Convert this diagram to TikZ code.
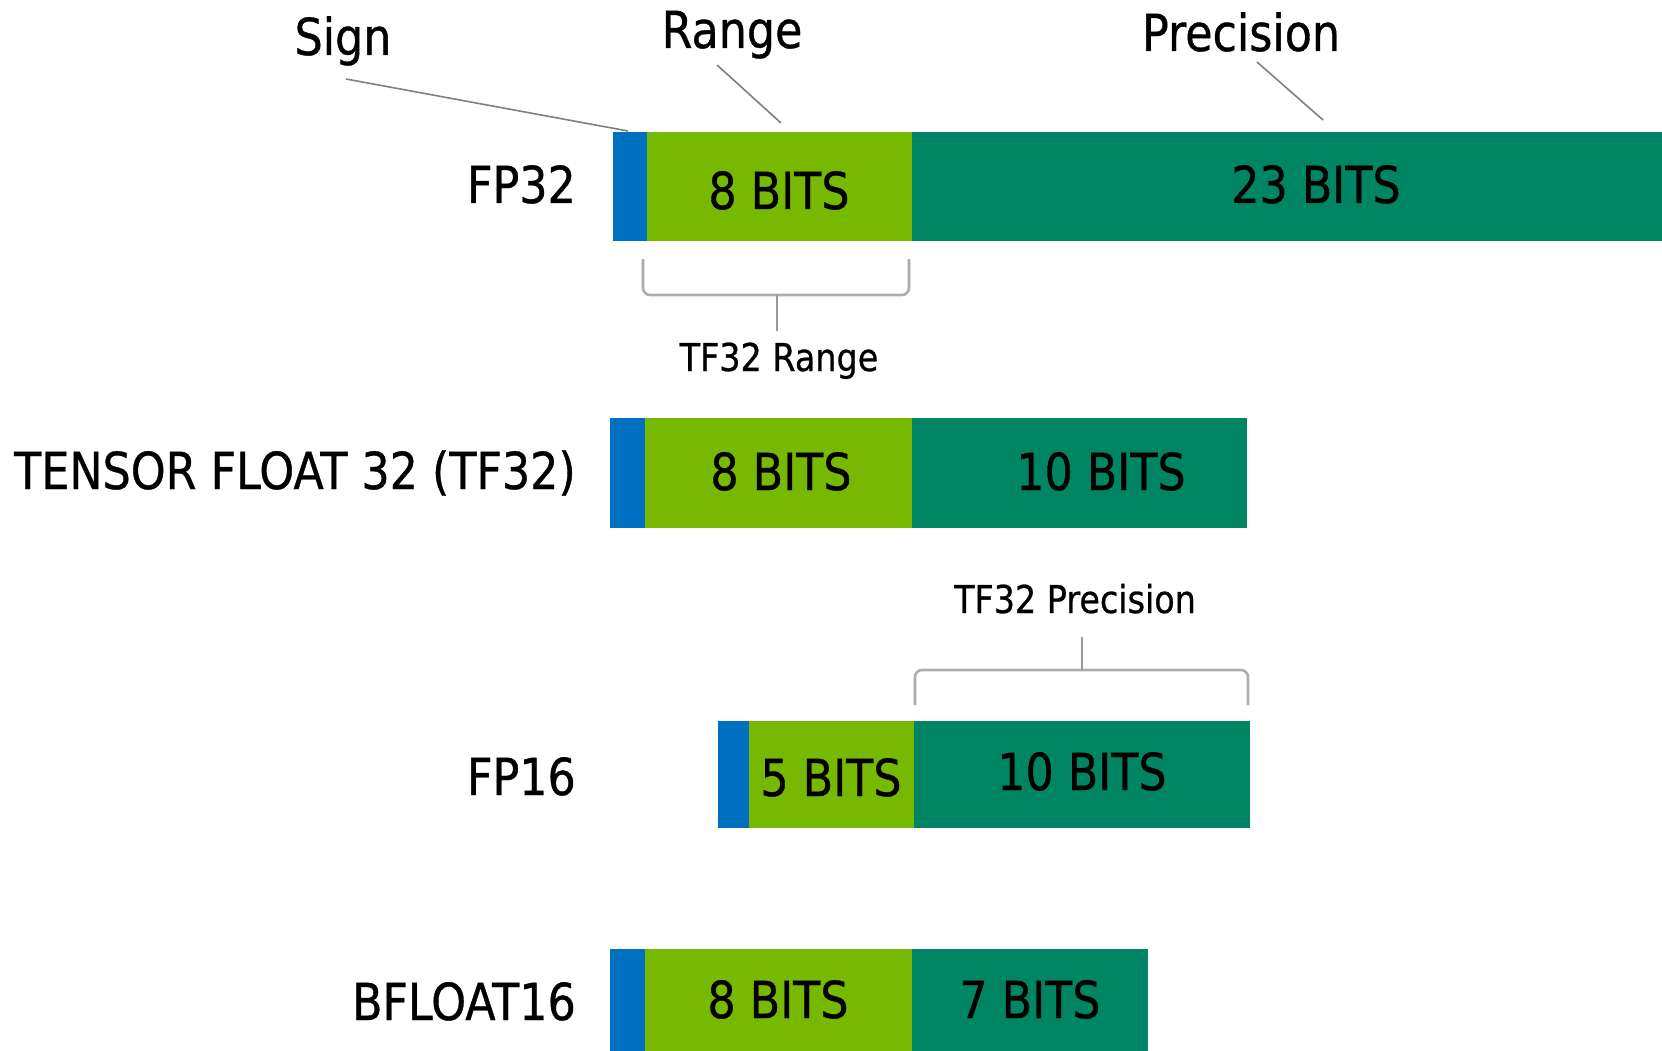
\documentclass[tikz,border=0pt]{standalone}
\usepackage{fontspec}
\setmainfont{DejaVu Sans}[FakeStretch=0.87,FakeBold=0.7]
\definecolor{sgnblue}{HTML}{0070C0}
\definecolor{rnggreen}{HTML}{76B900}
\definecolor{prcgreen}{HTML}{008564}
\begin{document}
\begin{tikzpicture}[x=1pt,y=-1pt,
  big/.style={font=\fontsize{51}{60}\selectfont, inner sep=0pt, anchor=base},
  rowlabel/.style={font=\fontsize{51}{60}\selectfont, inner sep=0pt, anchor=base east},
  small/.style={font=\fontsize{38.4}{46}\selectfont, inner sep=0pt, anchor=base},
  lead/.style={draw=black!50, line width=1.6pt},
  brace/.style={draw=black!32, line width=2.6pt, rounded corners=7pt},
  stem/.style={draw=black!40, line width=2pt}]
\useasboundingbox[fill=white] (0,0) rectangle (1662,1051);

% FP32
\fill[sgnblue]  (612.7,132.5) rectangle (646.6,240.6);
\fill[rnggreen] (646.6,132.5) rectangle (911.6,240.6);
\fill[prcgreen] (911.6,132.5) rectangle (1662,240.6);
\node[rowlabel] (lfp32) at (576,203) {FP32};
\node[big] (fp32r) at (779,209) {8 BITS};
\node[big] (fp32p) at (1316,203) {23 BITS};

% TF32
\fill[sgnblue]  (609.5,417.6) rectangle (644.5,527.9);
\fill[rnggreen] (644.5,417.6) rectangle (911.6,527.9);
\fill[prcgreen] (911.6,417.6) rectangle (1246.6,527.9);
\node[rowlabel] (ltf32) at (576,489) {TENSOR FLOAT 32 (TF32)};
\node[big] (tf32r) at (781,490) {8 BITS};
\node[big] (tf32p) at (1101,490) {10 BITS};

% FP16
\fill[sgnblue]  (718.2,720.8) rectangle (749.2,827.9);
\fill[rnggreen] (749.2,720.8) rectangle (913.7,827.9);
\fill[prcgreen] (913.7,720.8) rectangle (1249.7,827.9);
\node[rowlabel] (lfp16) at (576,795) {FP16};
\node[big] (fp16r) at (831,796) {5 BITS};
\node[big] (fp16p) at (1082,790) {10 BITS};

% BFLOAT16
\fill[sgnblue]  (609.5,948.7) rectangle (644.5,1051);
\fill[rnggreen] (644.5,948.7) rectangle (911.6,1051);
\fill[prcgreen] (911.6,948.7) rectangle (1148,1051);
\node[rowlabel] (lbf16) at (576,1020) {BFLOAT16};
\node[big] (bf16r) at (778,1018) {8 BITS};
\node[big] (bf16p) at (1030,1018) {7 BITS};

% top labels and leader lines
\node[big] (sign) at (343,55) {Sign};
\node[big] (range) at (732,48) {Range};
\node[big] (prec) at (1241,51) {Precision};
\coordinate (signtail) at (346,79);
\coordinate (signtip) at (628,131);
\coordinate (rangetail) at (717,65);
\coordinate (rangetip) at (781,123);
\coordinate (prectail) at (1257,62);
\coordinate (prectip) at (1323,120);
\draw[lead] (signtail) -- (signtip);
\draw[lead] (rangetail) -- (rangetip);
\draw[lead] (prectail) -- (prectip);

% TF32 range brace
\coordinate (rb1) at (643,259);
\coordinate (rb2) at (643,295);
\coordinate (rb3) at (909,295);
\coordinate (rb4) at (909,259);
\coordinate (rbm) at (777,295);
\coordinate (rbt) at (777,331);
\draw[brace] (rb1) -- (rb2) -- (rb3) -- (rb4);
\draw[stem] (rbm) -- (rbt);
\node[small] (tfrange) at (779,371) {TF32 Range};

% TF32 precision brace
\coordinate (pb1) at (915,705);
\coordinate (pb2) at (915,670);
\coordinate (pb3) at (1248,670);
\coordinate (pb4) at (1248,705);
\coordinate (pbm) at (1082,670);
\coordinate (pbt) at (1082,637);
\draw[brace] (pb1) -- (pb2) -- (pb3) -- (pb4);
\draw[stem] (pbm) -- (pbt);
\node[small] (tfprec) at (1075,613) {TF32 Precision};
\end{tikzpicture}
\end{document}
